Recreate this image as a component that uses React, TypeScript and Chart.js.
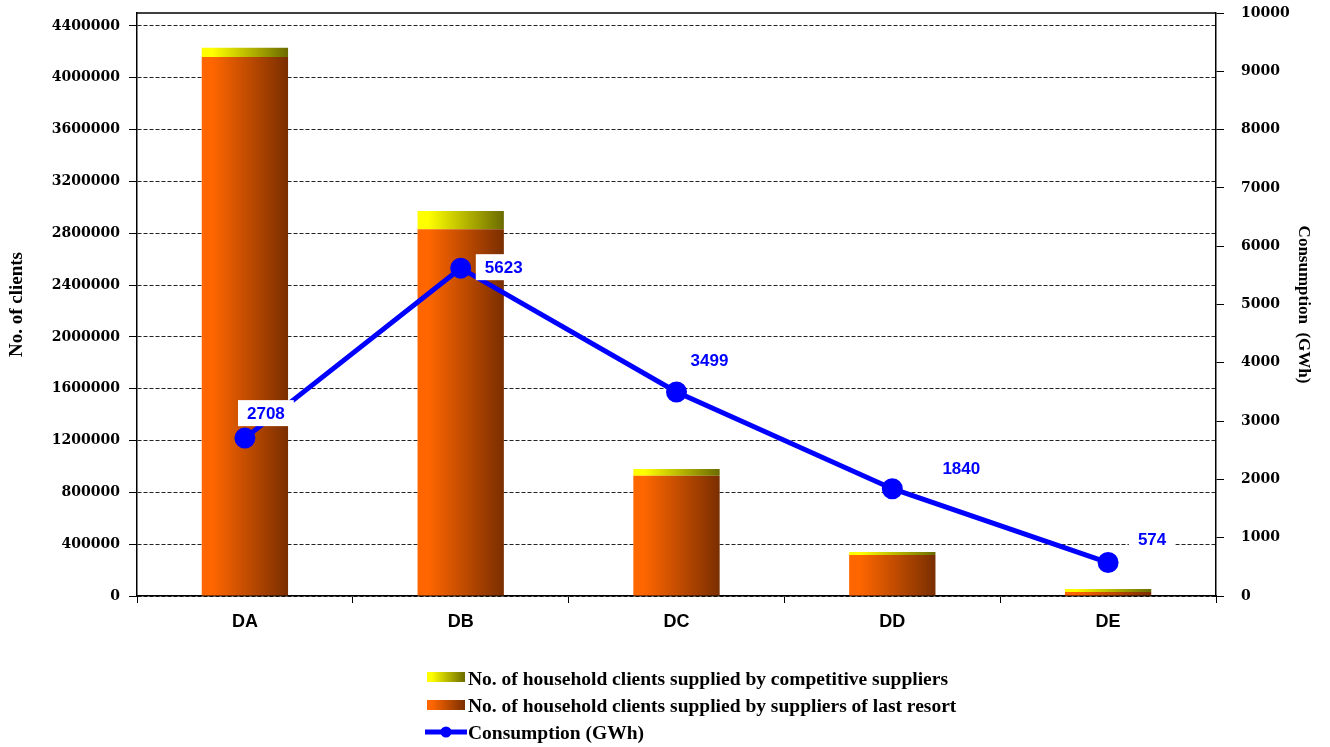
import React, { useEffect, useRef } from "react";
import { Chart, registerables } from "chart.js";

Chart.register(...registerables);

const categories = ["DA", "DB", "DC", "DD", "DE"];
const lastResortClients = [4160000, 2830000, 928000, 316000, 31000];
const competitiveClients = [72000, 142000, 52000, 24000, 23000];
const consumptionGWh = [2708, 5623, 3499, 1840, 574];

const leftTicks = [0, 400000, 800000, 1200000, 1600000, 2000000, 2400000, 2800000, 3200000, 3600000, 4000000, 4400000];
const rightTicks = [0, 1000, 2000, 3000, 4000, 5000, 6000, 7000, 8000, 9000, 10000];
const leftMax = 4500000;
const rightMax = 10000;

const labelCompetitive = "No. of household clients supplied by competitive suppliers";
const labelLastResort = "No. of household clients supplied by suppliers of last resort";
const labelConsumption = "Consumption (GWh)";
const leftTitle = "No. of clients";
const rightTitle = "Consumption  (GWh)";

// label offsets (px) relative to each point, as placed in the original
const labelOffsetX = [21, 43, 33, 69, 44];
const labelOffsetY = [-25, -1, -32, -20, -23];

const BAR_PCT = 0.4;
const ORANGE_STOPS: [number, string][] = [
  [0, "#FF6600"],
  [0.12, "#FF6600"],
  [1, "#7A2E00"],
];
const YELLOW_STOPS: [number, string][] = [
  [0, "#FFFF00"],
  [0.12, "#FFFF00"],
  [1, "#6B6B00"],
];

function makeGrad(ctx: CanvasRenderingContext2D, x0: number, x1: number, stops: [number, string][]) {
  const g = ctx.createLinearGradient(x0, 0, x1, 0);
  stops.forEach(([o, c]) => g.addColorStop(o, c));
  return g;
}

const barGradient = (stops: [number, string][]) => (c: any) => {
  const chart = c.chart;
  const xs = chart.scales && chart.scales.x;
  if (!xs || !chart.chartArea || c.dataIndex === undefined) return stops[0][1];
  const cx = xs.getPixelForValue(c.dataIndex);
  const w = (xs.width / categories.length) * BAR_PCT;
  return makeGrad(chart.ctx, cx - w / 2, cx + w / 2, stops);
};

const decorPlugin = {
  id: "decor",
  afterDatasetsDraw(chart: any) {
    const ctx: CanvasRenderingContext2D = chart.ctx;
    const area = chart.chartArea;
    ctx.save();
    ctx.strokeStyle = "#000";
    ctx.lineWidth = 1.5;
    ctx.beginPath();
    ctx.moveTo(area.left, area.top);
    ctx.lineTo(area.right, area.top);
    ctx.stroke();
    ctx.restore();

    const meta = chart.getDatasetMeta(2);
    ctx.save();
    ctx.font = "bold 17px 'Liberation Sans', Arial, sans-serif";
    ctx.textAlign = "center";
    ctx.textBaseline = "middle";
    meta.data.forEach((pt: any, i: number) => {
      const text = String(consumptionGWh[i]);
      const x = pt.x + labelOffsetX[i];
      const y = pt.y + labelOffsetY[i];
      const w = ctx.measureText(text).width + 18;
      ctx.fillStyle = "#FFFFFF";
      ctx.fillRect(x - w / 2, y - 13, w, 26);
      ctx.fillStyle = "#0000FF";
      ctx.fillText(text, x, y + 1);
    });
    ctx.restore();
  },
  afterDraw(chart: any) {
    const ctx: CanvasRenderingContext2D = chart.ctx;
    const sx = 427;
    const sw = 38;
    const tx = 468;
    ctx.save();
    ctx.font = "bold 19.5px 'Liberation Serif', 'Times New Roman', serif";
    ctx.textBaseline = "alphabetic";
    ctx.textAlign = "left";
    ctx.fillStyle = makeGrad(ctx, sx, sx + sw, YELLOW_STOPS);
    ctx.fillRect(sx, 672, sw, 10);
    ctx.fillStyle = "#000";
    ctx.fillText(labelCompetitive, tx, 685);
    ctx.fillStyle = makeGrad(ctx, sx, sx + sw, ORANGE_STOPS);
    ctx.fillRect(sx, 700, sw, 10);
    ctx.fillStyle = "#000";
    ctx.fillText(labelLastResort, tx, 712);
    ctx.strokeStyle = "#0000FF";
    ctx.lineWidth = 5;
    ctx.beginPath();
    ctx.moveTo(425, 732);
    ctx.lineTo(467, 732);
    ctx.stroke();
    ctx.fillStyle = "#0000FF";
    ctx.beginPath();
    ctx.arc(446, 732, 5.5, 0, Math.PI * 2);
    ctx.fill();
    ctx.fillStyle = "#000";
    ctx.fillText(labelConsumption, tx, 739);
    ctx.restore();
  },
};

export default function App() {
  const ref = useRef<HTMLCanvasElement | null>(null);
  useEffect(() => {
    if (!ref.current) return;
    const tickFont = { family: "'DejaVu Serif', serif", size: 14, weight: "bold" as const };
    const chart = new Chart(ref.current, {
      type: "bar",
      data: {
        labels: categories,
        datasets: [
          {
            type: "bar",
            label: labelLastResort,
            data: lastResortClients,
            backgroundColor: barGradient(ORANGE_STOPS),
            borderWidth: 0,
            yAxisID: "y",
            stack: "s",
            order: 1,
            barPercentage: BAR_PCT,
            categoryPercentage: 1,
          },
          {
            type: "bar",
            label: labelCompetitive,
            data: competitiveClients,
            backgroundColor: barGradient(YELLOW_STOPS),
            borderWidth: 0,
            yAxisID: "y",
            stack: "s",
            order: 2,
            barPercentage: BAR_PCT,
            categoryPercentage: 1,
          },
          {
            type: "line",
            label: labelConsumption,
            data: consumptionGWh,
            borderColor: "#0000FF",
            backgroundColor: "#0000FF",
            borderWidth: 5,
            pointRadius: 8,
            pointBackgroundColor: "#0000FF",
            pointBorderColor: "#0000FF",
            tension: 0,
            yAxisID: "y1",
            order: 0,
          },
        ] as any,
      },
      options: {
        animation: false,
        responsive: false,
        maintainAspectRatio: false,
        layout: { padding: { top: 13, bottom: 111, left: 0, right: 0 } },
        plugins: {
          legend: { display: false },
          tooltip: { enabled: false },
        },
        scales: {
          x: {
            stacked: true,
            offset: true,
            grid: {
              offset: true,
              drawOnChartArea: false,
              drawTicks: true,
              tickLength: 7,
              color: "#000",
            },
            border: { color: "#000", width: 1.5 },
            ticks: {
              color: "#000",
              padding: 8,
              font: { family: "'Liberation Sans', Arial, sans-serif", size: 18, weight: "bold" },
            },
            afterFit: (s: any) => {
              s.height = 40;
              s.paddingLeft = 0;
              s.paddingRight = 0;
            },
          },
          y: {
            type: "linear",
            position: "left",
            stacked: true,
            min: 0,
            max: leftMax,
            ticks: {
              color: "#000",
              padding: 9,
              font: tickFont,
              callback: (v: any) => String(v),
            },
            afterBuildTicks: (s: any) => {
              s.ticks = leftTicks.map((v) => ({ value: v }));
            },
            grid: {
              color: "#222",
              lineWidth: 1,
              tickLength: 8,
              tickColor: "#000",
            },
            border: { color: "#000", width: 1.5, dash: [4, 2] },
            title: {
              display: true,
              text: leftTitle,
              color: "#000",
              padding: { top: 6, bottom: 0 },
              font: { family: "'Liberation Serif', 'Times New Roman', serif", size: 19, weight: "bold" },
            },
            afterFit: (s: any) => {
              s.width = 137;
              s.paddingTop = 0;
              s.paddingBottom = 0;
            },
          },
          y1: {
            type: "linear",
            position: "right",
            stacked: false,
            min: 0,
            max: rightMax,
            ticks: {
              color: "#000",
              padding: 17,
              font: tickFont,
              callback: (v: any) => String(v),
            },
            afterBuildTicks: (s: any) => {
              s.ticks = rightTicks.map((v) => ({ value: v }));
            },
            grid: {
              drawOnChartArea: false,
              tickLength: 8,
              tickColor: "#000",
            },
            border: { color: "#000", width: 1.5 },
            title: {
              display: true,
              text: rightTitle,
              color: "#000",
              padding: { top: 16, bottom: 0 },
              font: { family: "'Liberation Serif', 'Times New Roman', serif", size: 17, weight: "bold" },
            },
            afterFit: (s: any) => {
              s.width = 114;
              s.paddingTop = 0;
              s.paddingBottom = 0;
            },
          },
        },
      } as any,
      plugins: [decorPlugin],
    });
    return () => chart.destroy();
  }, []);

  return (
    <div style={{ position: "absolute", left: 0, top: 0, width: 1330, height: 747, background: "#fff" }}>
      <canvas ref={ref} width={1330} height={747} style={{ width: 1330, height: 747, display: "block" }} />
    </div>
  );
}
